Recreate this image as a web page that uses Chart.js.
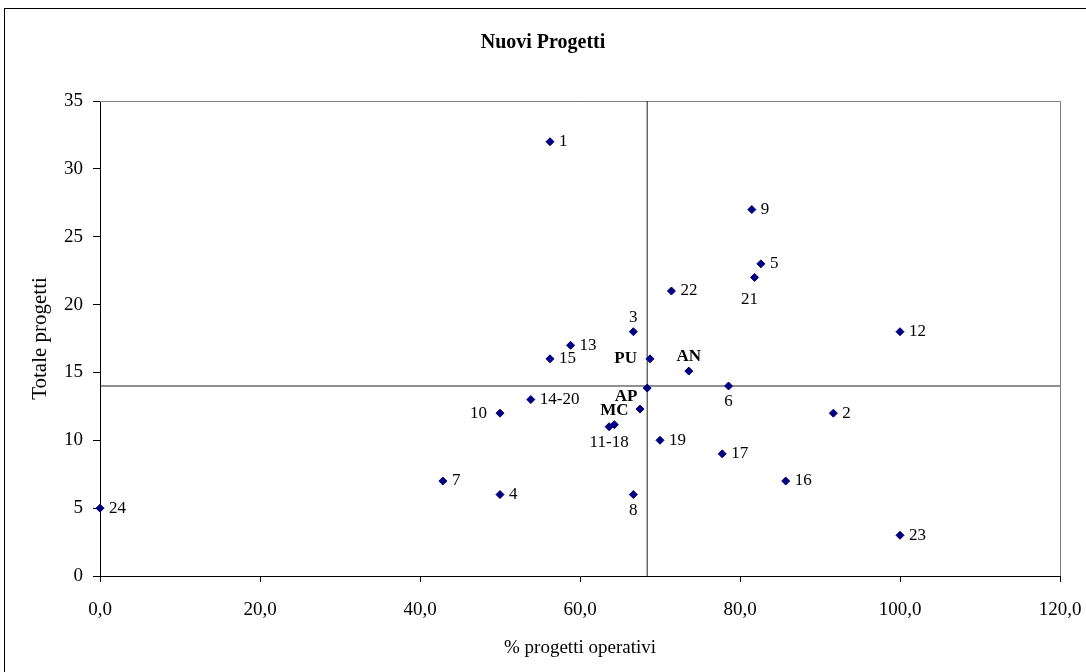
<!DOCTYPE html>
<html>
<head>
<meta charset="utf-8">
<title>Nuovi Progetti</title>
<script src="https://cdn.jsdelivr.net/npm/chart.js@4.4.1/dist/chart.umd.min.js"></script>
<style>
  html, body { margin: 0; padding: 0; background: #fff; overflow: hidden; }
  canvas { display: block; }
</style>
</head>
<body>
<canvas id="grafico" width="1086" height="672"></canvas>
<script>
// progetti numerati: % operativi (x) e totale (y)
const progettiEtichette = ['1', '2', '3', '4', '5', '6', '7', '8', '9', '10', '11-18', '12', '13', '14-20', '15', '16', '17', '19', '21', '22', '23', '24'];
const progettiOperativi = [56.25, 91.67, 66.67, 50, 82.61, 78.57, 42.86, 66.67, 81.48, 50, 63.64, 100, 58.82, 53.85, 56.25, 85.71, 77.78, 70, 81.82, 71.43, 100, 0];
const progettiTotale = [32, 12, 18, 6, 23, 14, 7, 6, 27, 12, 11, 18, 17, 13, 16, 7, 9, 10, 22, 21, 3, 5];

// province
const provinceEtichette = ['PU', 'AN', 'AP', 'MC'];
const provinceOperativi = [68.75, 73.6, 67.5, 64.3];
const provinceTotale = [16, 15.1, 12.3, 11.15];

// regione (media) e linee di riferimento
const regioneOperativi = [68.4];
const regioneTotale = [13.85];
const mediaOperativi = 68.4;
const mediaTotale = 14;

// dove mettere le etichette
const progettiPosto = ['r', 'r', 'a', 'r', 'r', 'b', 'r', 'b', 'r', 'l', 'b', 'r', 'r', 'r', 'r', 'r', 'r', 'r', 'bl', 'r', 'r', 'r'];
const provincePosto = ['l', 'a', 'al', 'a'];

const SERIF = "'Liberation Serif', 'Times New Roman', serif";
const BLU = '#000080';

const posti = {
  r:  { dx: 9,   dy: 0,   align: 'left' },
  l:  { dx: -13, dy: 0,   align: 'right' },
  a:  { dx: 0,   dy: -14, align: 'center' },
  b:  { dx: 0,   dy: 16,  align: 'center' },
  bl: { dx: -5,  dy: 22,  align: 'center' },
  al: { dx: -14, dy: -12, align: 'center' }
};

const punti = (xs, ys) => xs.map((x, i) => ({ x: x, y: ys[i] }));

// sfondo, cornice esterna e bordo grigio dell'area del grafico
const cornice = {
  id: 'cornice',
  beforeDraw(chart) {
    const ctx = chart.ctx;
    ctx.save();
    ctx.fillStyle = '#fff';
    ctx.fillRect(0, 0, chart.width, chart.height);
    ctx.strokeStyle = '#000';
    ctx.lineWidth = 1;
    ctx.strokeRect(4.5, 8.5, 1200, 800);
    ctx.restore();
  },
  beforeDatasetsDraw(chart) {
    const a = chart.chartArea;
    const ctx = chart.ctx;
    ctx.save();
    ctx.strokeStyle = '#808080';
    ctx.lineWidth = 1;
    ctx.beginPath();
    ctx.moveTo(a.left, Math.round(a.top) + 0.5);
    ctx.lineTo(Math.round(a.right) + 0.5, Math.round(a.top) + 0.5);
    ctx.lineTo(Math.round(a.right) + 0.5, a.bottom);
    ctx.stroke();
    ctx.restore();
  }
};

// etichette accanto ai punti
const etichette = {
  id: 'etichette',
  afterDatasetsDraw(chart) {
    const ctx = chart.ctx;
    chart.data.datasets.forEach((ds, i) => {
      if (!ds.etichette) return;
      const meta = chart.getDatasetMeta(i);
      ctx.save();
      ctx.font = ds.fontEtichette;
      ctx.fillStyle = '#000';
      ctx.textBaseline = 'middle';
      meta.data.forEach((pt, j) => {
        const p = posti[ds.posto[j]];
        ctx.textAlign = p.align;
        ctx.fillText(ds.etichette[j], pt.x + p.dx, pt.y + p.dy);
      });
      ctx.restore();
    });
  }
};

new Chart(document.getElementById('grafico'), {
  type: 'scatter',
  data: {
    datasets: [{
      label: 'Progetti',
      data: punti(progettiOperativi, progettiTotale),
      etichette: progettiEtichette,
      posto: progettiPosto,
      fontEtichette: '17px ' + SERIF,
      pointStyle: 'rectRot',
      pointRadius: 4,
      backgroundColor: BLU,
      borderColor: BLU,
      borderWidth: 1,
      clip: false
    }, {
      label: 'Province',
      data: punti(provinceOperativi, provinceTotale),
      etichette: provinceEtichette,
      posto: provincePosto,
      fontEtichette: 'bold 17px ' + SERIF,
      pointStyle: 'rectRot',
      pointRadius: 4,
      backgroundColor: BLU,
      borderColor: BLU,
      borderWidth: 1,
      clip: false
    }, {
      label: 'Regione',
      data: punti(regioneOperativi, regioneTotale),
      pointStyle: 'rectRot',
      pointRadius: 4,
      backgroundColor: BLU,
      borderColor: BLU,
      borderWidth: 1,
      clip: false
    }, {
      label: 'Media operativi',
      data: [{ x: mediaOperativi, y: 0 }, { x: mediaOperativi, y: 35 }],
      showLine: true,
      pointRadius: 0,
      borderColor: '#222',
      borderWidth: 1
    }, {
      label: 'Media totale',
      data: [{ x: 0, y: mediaTotale }, { x: 120, y: mediaTotale }],
      showLine: true,
      pointRadius: 0,
      borderColor: '#222',
      borderWidth: 1
    }]
  },
  options: {
    responsive: false,
    devicePixelRatio: 1,
    animation: false,
    layout: { padding: { left: 13, right: 13, top: 0, bottom: 0 } },
    plugins: {
      legend: { display: false },
      tooltip: { enabled: false },
      title: {
        display: true,
        text: 'Nuovi Progetti',
        color: '#000',
        font: { family: SERIF, size: 20, weight: 'bold' },
        padding: { top: 31, bottom: 46 }
      }
    },
    scales: {
      x: {
        type: 'linear',
        min: 0,
        max: 120,
        ticks: {
          stepSize: 20,
          padding: 17,
          maxRotation: 0,
          color: '#000',
          font: { family: SERIF, size: 19 },
          callback: v => v.toFixed(1).replace('.', ',')
        },
        grid: { display: true, drawOnChartArea: false, drawTicks: true, tickLength: 6, color: '#000' },
        border: { display: true, color: '#000', width: 1 },
        title: {
          display: true,
          text: '% progetti operativi',
          color: '#000',
          font: { family: SERIF, size: 19 },
          padding: { top: 0, bottom: 13 }
        },
        afterFit: s => {
          s.height = 96;
          s.paddingLeft = 0;
          s.paddingRight = 0;
        }
      },
      y: {
        type: 'linear',
        min: 0,
        max: 35,
        ticks: {
          stepSize: 5,
          padding: 10,
          color: '#000',
          font: { family: SERIF, size: 19 }
        },
        grid: { display: true, drawOnChartArea: false, drawTicks: true, tickLength: 7, color: '#000' },
        border: { display: true, color: '#000', width: 1 },
        title: {
          display: true,
          text: 'Totale progetti',
          color: '#000',
          font: { family: SERIF, size: 21 },
          padding: { top: 15, bottom: 0 }
        },
        afterFit: s => { s.width = 87; }
      },
      // spazio vuoto a destra dell'area del grafico
      margine: {
        type: 'linear',
        position: 'right',
        display: true,
        ticks: { display: false },
        grid: { display: false },
        border: { display: false },
        afterFit: s => { s.width = 13; }
      }
    }
  },
  plugins: [cornice, etichette]
});
</script>
</body>
</html>
